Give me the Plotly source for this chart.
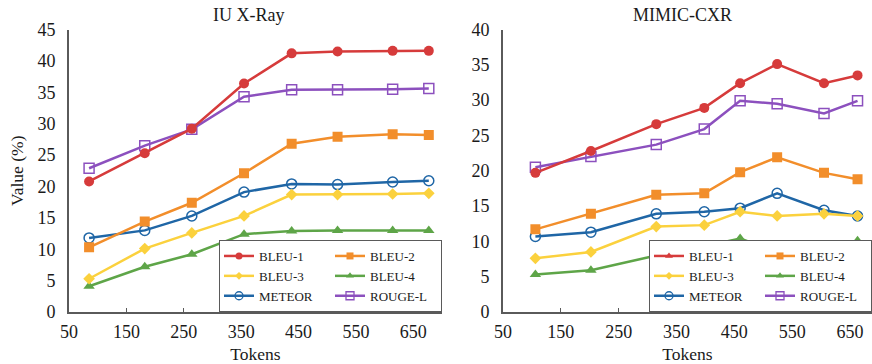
import plotly.graph_objects as go

series = ["BLEU-1", "BLEU-2", "BLEU-3", "BLEU-4", "METEOR", "ROUGE-L"]

iu_tokens = [85, 182, 264, 355, 438, 518, 614, 677]
iu_bleu1 = [20.8, 25.3, 29.2, 36.4, 41.2, 41.5, 41.6, 41.6]
iu_bleu2 = [10.3, 14.4, 17.4, 22.1, 26.8, 27.9, 28.3, 28.2]
iu_bleu3 = [5.3, 10.1, 12.6, 15.3, 18.7, 18.7, 18.8, 18.9]
iu_bleu4 = [4.1, 7.2, 9.2, 12.4, 12.9, 13.0, 13.0, 13.0]
iu_meteor = [11.8, 13.0, 15.3, 19.1, 20.4, 20.3, 20.7, 20.9]
iu_rouge = [22.9, 26.5, 29.1, 34.3, 35.4, 35.4, 35.5, 35.6]

mc_tokens = [106, 202, 315, 398, 460, 524, 605, 663]
mc_bleu1 = [19.7, 22.8, 26.6, 28.9, 32.4, 35.1, 32.4, 33.5]
mc_bleu2 = [11.7, 13.9, 16.6, 16.8, 19.8, 21.9, 19.7, 18.8]
mc_bleu3 = [7.6, 8.5, 12.1, 12.3, 14.2, 13.6, 13.9, 13.6]
mc_bleu4 = [5.3, 5.9, 8.0, 9.3, 10.4, 8.5, 8.5, 10.1]
mc_meteor = [10.7, 11.3, 13.9, 14.2, 14.7, 16.8, 14.4, 13.6]
mc_rouge = [20.5, 22.0, 23.7, 25.9, 29.9, 29.5, 28.1, 29.9]

x_ticks = [50, 150, 250, 350, 450, 550, 650]
iu_y_ticks = [0, 5, 10, 15, 20, 25, 30, 35, 40, 45]
mc_y_ticks = [0, 5, 10, 15, 20, 25, 30, 35, 40]

colors = {"BLEU-1": "#D63B3B", "BLEU-2": "#F28E2B", "BLEU-3": "#FBD13D",
          "BLEU-4": "#5EA548", "METEOR": "#1F66A6", "ROUGE-L": "#8C50BE"}
markers = {"BLEU-1": dict(symbol="circle", size=10),
           "BLEU-2": dict(symbol="square", size=10),
           "BLEU-3": dict(symbol="diamond", size=9),
           "BLEU-4": dict(symbol="triangle-up", size=10),
           "METEOR": dict(symbol="circle-open", size=10, line=dict(width=1.5)),
           "ROUGE-L": dict(symbol="square-open", size=10, line=dict(width=1.5))}
leg_markers = {"BLEU-1": dict(symbol="circle", size=7),
               "BLEU-2": dict(symbol="square", size=7),
               "BLEU-3": dict(symbol="diamond", size=6),
               "BLEU-4": dict(symbol="triangle-up", size=7),
               "METEOR": dict(symbol="circle-open", size=8, line=dict(width=1.3)),
               "ROUGE-L": dict(symbol="square-open", size=8, line=dict(width=1.3))}
groups = {"BLEU-1": "a", "BLEU-3": "a", "METEOR": "a",
          "BLEU-2": "b", "BLEU-4": "b", "ROUGE-L": "b"}
order = ["BLEU-1", "BLEU-3", "METEOR", "BLEU-2", "BLEU-4", "ROUGE-L"]

iu = dict(zip(series, [iu_bleu1, iu_bleu2, iu_bleu3, iu_bleu4, iu_meteor, iu_rouge]))
mc = dict(zip(series, [mc_bleu1, mc_bleu2, mc_bleu3, mc_bleu4, mc_meteor, mc_rouge]))

FONT = "Liberation Serif"
AXC = "#5a5a5a"
TXT = "#1a1a1a"

W, H = 872, 364


def fx(px):
    return px / W


def fy(py):
    return 1 - py / H


fig = go.Figure()

draw_order = ["ROUGE-L", "METEOR", "BLEU-4", "BLEU-3", "BLEU-2", "BLEU-1"]
for name in draw_order:
    fig.add_trace(go.Scatter(x=iu_tokens, y=iu[name], mode="lines+markers", name=name,
                             line=dict(color=colors[name], width=2.5),
                             marker=dict(color=colors[name], **markers[name]),
                             xaxis="x", yaxis="y", showlegend=False))
    fig.add_trace(go.Scatter(x=mc_tokens, y=mc[name], mode="lines+markers", name=name,
                             line=dict(color=colors[name], width=2.5),
                             marker=dict(color=colors[name], **markers[name]),
                             xaxis="x2", yaxis="y2", showlegend=False))

# legend entries
for name in order:
    fig.add_trace(go.Scatter(x=[None], y=[None], mode="lines+markers", name=name,
                             line=dict(color=colors[name], width=2.5),
                             marker=dict(color=colors[name], **leg_markers[name]),
                             xaxis="x", yaxis="y", legend="legend",
                             legendgroup="L" + groups[name]))
for name in order:
    mk = dict(leg_markers[name])
    if name == "BLEU-1":
        mk = dict(symbol="triangle-up", size=7)
    fig.add_trace(go.Scatter(x=[None], y=[None], mode="lines+markers", name=name,
                             line=dict(color=colors[name], width=2.5),
                             marker=dict(color=colors[name], **mk),
                             xaxis="x2", yaxis="y2", legend="legend2",
                             legendgroup="R" + groups[name]))

x1d = [fx(69), fx(442)]
x2d = [fx(503), 1.0]
yd = [fy(312), fy(29.5)]

xaxis_common = dict(showline=True, linecolor=AXC, linewidth=2, ticks="inside", ticklen=4,
                    tickcolor=AXC, tickvals=x_ticks, showgrid=False, zeroline=False,
                    automargin=False, ticklabelstandoff=2,
                    tickfont=dict(family=FONT, size=18, color=TXT),
                    title=dict(text="Tokens", font=dict(family=FONT, size=17.5, color=TXT),
                               standoff=12))
yaxis_common = dict(showline=True, linecolor=AXC, linewidth=2, ticks="", showgrid=False,
                    zeroline=False, automargin=False, ticklabelstandoff=8,
                    tickfont=dict(family=FONT, size=18, color=TXT))

legend_common = dict(orientation="h", traceorder="grouped", bordercolor=AXC, borderwidth=1,
                     bgcolor="white", font=dict(family=FONT, size=13, color=TXT),
                     xanchor="right", yanchor="bottom", entrywidth=66, tracegroupgap=0,
                     itemwidth=30, itemclick=False, itemdoubleclick=False)

fig.update_layout(
    width=W, height=H, margin=dict(l=0, r=0, t=0, b=0, autoexpand=False),
    font=dict(family=FONT, color=TXT),
    paper_bgcolor="white", plot_bgcolor="white",
    xaxis=dict(domain=x1d, range=[50, 700], anchor="y", **xaxis_common),
    yaxis=dict(domain=yd, range=[0, 45], tickvals=iu_y_ticks, anchor="x",
               title=dict(text="Value (%)", font=dict(family=FONT, size=17.5, color=TXT),
                          standoff=9), **yaxis_common),
    xaxis2=dict(domain=x2d, range=[50, 688], anchor="y2", **xaxis_common),
    yaxis2=dict(domain=yd, range=[0, 40], tickvals=mc_y_ticks, anchor="x2", **yaxis_common),
    legend=dict(x=x1d[1], y=yd[0], **legend_common),
    legend2=dict(x=1.0, y=yd[0], **legend_common),
    annotations=[
        dict(text="IU X-Ray", x=fx(248), y=fy(15), xref="paper", yref="paper",
             xanchor="center", yanchor="middle", showarrow=False,
             font=dict(family=FONT, size=18, color=TXT)),
        dict(text="MIMIC-CXR", x=fx(682), y=fy(15), xref="paper", yref="paper",
             xanchor="center", yanchor="middle", showarrow=False,
             font=dict(family=FONT, size=18, color=TXT)),
    ],
)

# remove the browser's default 8px body margin so the figure fills the window
fig.write_html("out.html", config={"displayModeBar": False},
               post_script="document.body.style.margin='0';document.body.style.overflow='hidden';")
